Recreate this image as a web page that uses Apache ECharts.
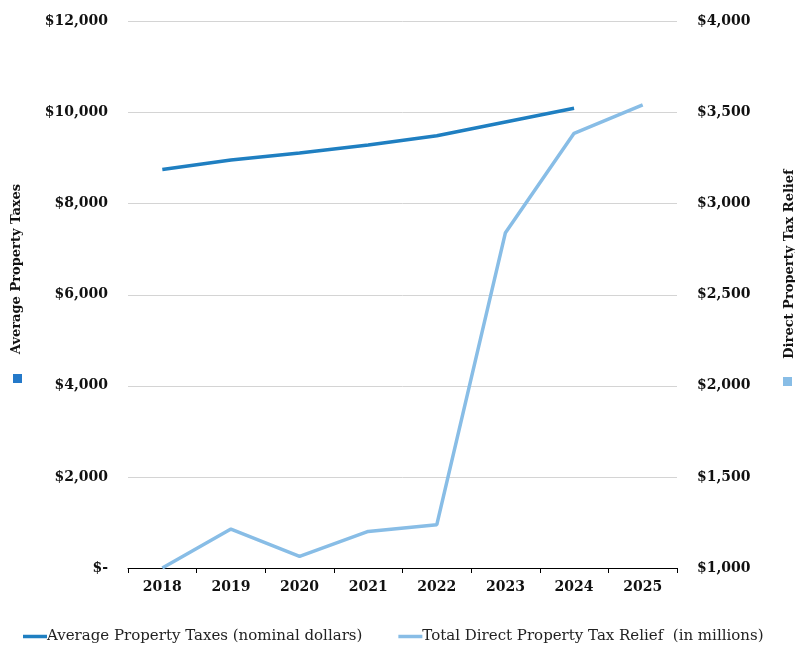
<!DOCTYPE html>
<html>
<head>
<meta charset="utf-8">
<script src="https://cdn.jsdelivr.net/npm/echarts@6/dist/echarts.min.js"></script>
<style>html,body{margin:0;padding:0;background:#fff}#c{width:795px;height:654px}</style>
</head>
<body>
<div id="c"></div>
<script>
var years = ['2018','2019','2020','2021','2022','2023','2024','2025'];
var avgPropertyTaxes = [8750, 8960, 9115, 9290, 9490, 9795, 10095, null];
var directRelief = [1000, 1214, 1064, 1201, 1238, 2841, 3386, 3542];
var leftTicks = {min: 0, max: 12000, interval: 2000};
var rightTicks = {min: 1000, max: 4000, interval: 500};
var seriesNames = ['Average Property Taxes (nominal dollars)', 'Total Direct Property Tax Relief  (in millions)'];
var leftTitle = 'Average Property Taxes';
var rightTitle = 'Direct Property Tax Relief';

var FONT = '"DejaVu Serif", "Liberation Serif", serif';
var DARK = '#1f7fc1';
var LIGHT = '#88bde6';

function money(v){ return v === 0 ? '$-' : '$' + v.toLocaleString('en-US'); }

var chart = echarts.init(document.getElementById('c'), null, {renderer: 'canvas'});
chart.setOption({
  animation: false,
  backgroundColor: '#fff',
  grid: {left: 128, right: 118, top: 21.5, bottom: 86},
  legend: {
    bottom: 5, left: 18,
    icon: 'rect', itemWidth: 24, itemHeight: 3.5, itemGap: 36,
    textStyle: {fontFamily: FONT, fontSize: 15, color: '#222', padding: [0,0,0,-5]},
    data: [{name: seriesNames[0]}, {name: seriesNames[1]}]
  },
  xAxis: {
    type: 'category', data: years, boundaryGap: true,
    axisLine: {lineStyle: {color: '#000', width: 1}},
    axisTick: {show: true, length: 5, inside: false, lineStyle: {color: '#000'}},
    axisLabel: {fontFamily: FONT, fontWeight: 'bold', fontSize: 14, color: '#111', margin: 12}
  },
  yAxis: [{
    type: 'value', min: leftTicks.min, max: leftTicks.max, interval: leftTicks.interval,
    axisLine: {show: false}, axisTick: {show: false},
    splitLine: {lineStyle: {color: '#d4d4d4', width: 1}},
    axisLabel: {fontFamily: FONT, fontWeight: 'bold', fontSize: 14, color: '#111', margin: 20, formatter: money}
  }, {
    type: 'value', min: rightTicks.min, max: rightTicks.max, interval: rightTicks.interval,
    axisLine: {show: false}, axisTick: {show: false}, splitLine: {show: false},
    axisLabel: {fontFamily: FONT, fontWeight: 'bold', fontSize: 14, color: '#111', margin: 20, formatter: money}
  }],
  series: [{
    name: seriesNames[0], type: 'line', yAxisIndex: 0, data: avgPropertyTaxes,
    symbol: 'none', lineStyle: {color: DARK, width: 3.5}, itemStyle: {color: DARK}
  }, {
    name: seriesNames[1], type: 'line', yAxisIndex: 1, data: directRelief,
    symbol: 'none', lineStyle: {color: LIGHT, width: 3.5}, itemStyle: {color: LIGHT}
  }],
  graphic: [
    {type: 'text', x: 17, y: 269, rotation: Math.PI/2,
     style: {text: leftTitle, fontFamily: FONT, fontWeight: 'bold', fontSize: 13, fill: '#111', align: 'center', verticalAlign: 'middle'}},
    {type: 'rect', shape: {x: 13, y: 374, width: 9, height: 9}, style: {fill: '#2479c9'}},
    {type: 'text', x: 790, y: 264, rotation: Math.PI/2,
     style: {text: rightTitle, fontFamily: FONT, fontWeight: 'bold', fontSize: 13, fill: '#111', align: 'center', verticalAlign: 'middle'}},
    {type: 'rect', shape: {x: 783, y: 377, width: 9, height: 9}, style: {fill: LIGHT}}
  ]
});
</script>
</body>
</html>
